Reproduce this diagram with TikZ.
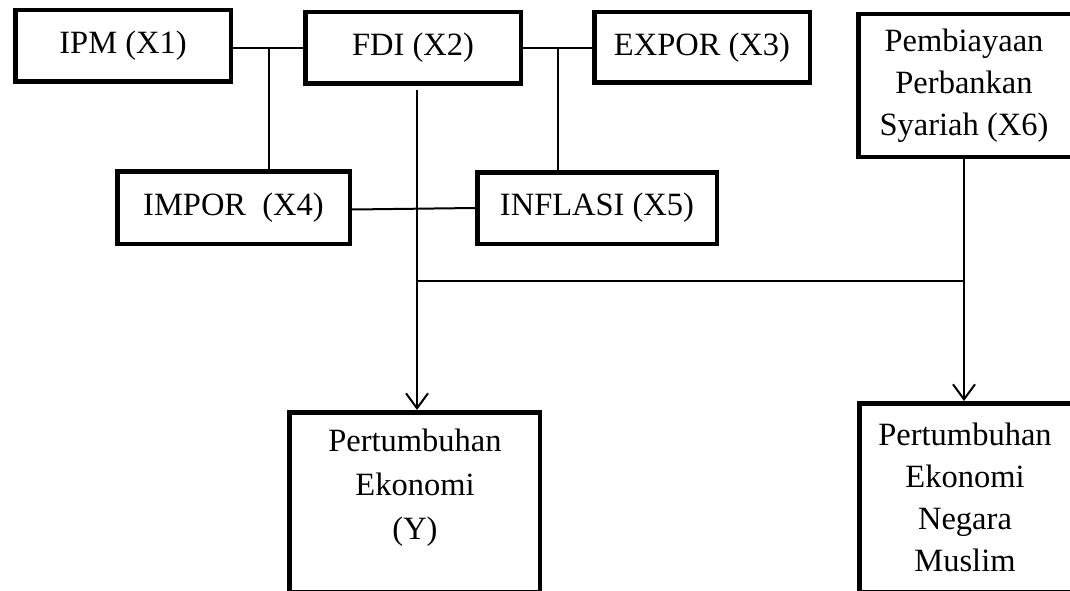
\documentclass[tikz,border=0pt]{standalone}
\usepackage{fontspec}
\setmainfont{Liberation Serif}
\usetikzlibrary{arrows.meta}
\begin{document}
\begin{tikzpicture}[x=1pt,y=-1pt,
  box/.style={draw, line width=4.5pt, rectangle, inner sep=0pt, font=\fontsize{32.5}{42}\selectfont, align=center},
  conn/.style={line width=2pt},
  arr/.style={conn, -{Straight Barb[length=15pt,width=22pt]}},
  txt/.style={inner sep=0pt, align=center}]
\useasboundingbox (0,0) rectangle (1070,591);
\clip (0,0) rectangle (1070,591);
% top row
\node[box, minimum width=215.5pt, minimum height=71.5pt] (X1) at (123,46) {IPM (X1)};
\node[box, minimum width=215.5pt, minimum height=71.5pt] (X2) at (413,48) {FDI (X2)};
\node[box, minimum width=215.5pt, minimum height=70.5pt] (X3) at (702,47.5) {EXPOR (X3)};
\node[box, anchor=west, minimum width=230pt, minimum height=142.5pt] (X6) at (856,85.5) {};
\node[txt, font=\fontsize{32.5}{42}\selectfont] (X6txt) at (964,85.5) {Pembiayaan\\Perbankan\\Syariah (X6)};
% second row
\node[box, minimum width=232.5pt, minimum height=72.5pt] (X4) at (233.5,207.5) {IMPOR\ \ (X4)};
\node[box, minimum width=239.5pt, minimum height=71.5pt] (X5) at (597,208) {INFLASI (X5)};
% bottom boxes (cut off at the lower edge)
\node[box, anchor=north, minimum width=250.5pt, minimum height=180.25pt] (Y) at (414.5,410) {};
\node[txt, font=\fontsize{32.5}{44}\selectfont] (Ytxt) at (415,487.5) {Pertumbuhan\\Ekonomi\\(Y)};
\node[box, anchor=north west, minimum width=230pt, minimum height=189.25pt] (NM) at (857,401) {};
\node[txt, font=\fontsize{32.5}{42}\selectfont] (NMtxt) at (965,497) {Pertumbuhan\\Ekonomi\\Negara\\Muslim};
% connectors
\draw[conn] (X1.east |- X2.west) -- (X2.west);
\draw[conn] (X2.east) -- (X2.east -| X3.west);
\coordinate (j14) at (269,49);
\draw[conn] (j14) -- (j14 |- X4.north);
\coordinate (j35) at (557.5,49);
\draw[conn] (j35) -- (j35 |- X5.north);
\draw[conn] ([yshift=-2pt]X4.east) -- (X5.west);
\coordinate (f) at (417,90);
\draw[arr] (f) -- (f |- Y.north);
\coordinate (v6) at (X6.south -| X6txt.south);
\draw[arr] (v6) -- (v6 |- NM.north);
\coordinate (h) at (417,281);
\draw[conn] (h) -- (h -| v6);
\end{tikzpicture}
\end{document}
